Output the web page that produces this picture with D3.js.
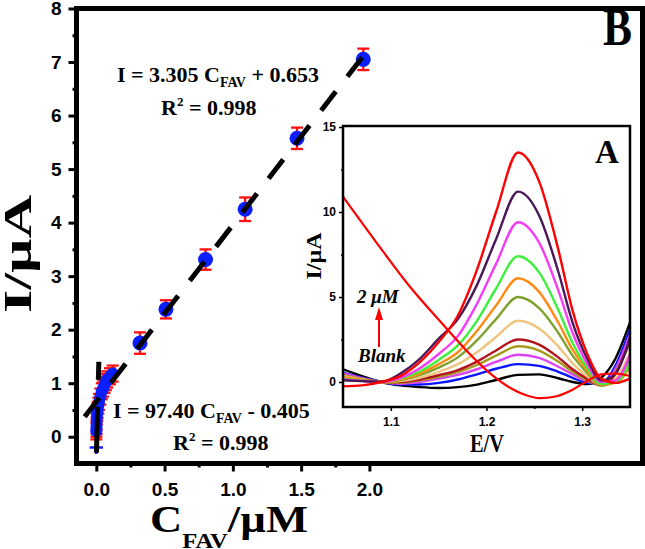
<!DOCTYPE html>
<html>
<head>
<meta charset="utf-8">
<script src="https://cdn.jsdelivr.net/npm/d3@7"></script>
<style>
body { margin: 0; background: #fff; }
svg { display: block; }
</style>
</head>
<body>
<svg id="chart" width="645" height="549"></svg>
<script>
// ---- panel B: calibration data ----
var highC = [0.32, 0.51, 0.80, 1.09, 1.47, 1.955];
var highI = [1.75, 2.38, 3.31, 4.25, 5.575, 7.05];
var highErr = [0.2, 0.17, 0.19, 0.22, 0.2, 0.2];

var lowC = [0.0005, 0.001, 0.002, 0.003, 0.005, 0.008, 0.01, 0.015, 0.02, 0.03, 0.04, 0.05, 0.06, 0.07, 0.08, 0.1, 0.12];
var lowI = [0.1, 0.15, 0.2, 0.28, 0.38, 0.45, 0.5, 0.58, 0.65, 0.75, 0.85, 0.9, 0.97, 1.02, 1.07, 1.13, 1.18];
var lowErr = [0.15, 0.15, 0.15, 0.15, 0.15, 0.15, 0.15, 0.15, 0.15, 0.15, 0.15, 0.15, 0.15, 0.15, 0.15, 0.15, 0.15];

var blankC = [0.0];
var blankI = [-0.2];

// linear fits: [slope, intercept], drawn over a C range / I range
var fitHigh = [3.305, 0.653];
var fitHighRange = [-0.085, 1.95];
var fitLow = [97.40, -0.405];
var fitLowIRange = [1.4, -0.3];

var xTicks = [0, 0.5, 1.0, 1.5, 2.0];
var xMinor = [0.25, 0.75, 1.25, 1.75];
var yTicks = [0, 1, 2, 3, 4, 5, 6, 7, 8];
var yMinor = [0.5, 1.5, 2.5, 3.5, 4.5, 5.5, 6.5, 7.5];

// ---- panel A: DPV curves ----
var potentials = [1.05, 1.07, 1.09, 1.11, 1.13, 1.15, 1.17, 1.19, 1.21, 1.233, 1.255, 1.275, 1.29, 1.305, 1.32, 1.335, 1.35];
var curveNames = ["blank", "c1", "c2", "c3", "c4", "c5", "c6", "c7", "c8", "c9", "c10", "2uM"];
var curveColors = ["#000000", "#0a14ff", "#dd44f0", "#a39a1e", "#b3141c", "#efc47c",
                   "#7fa12c", "#ff8a14", "#3cf03c", "#f43cf4", "#4a1758", "#ff0000"];
var curveValues = [
    [0.75, 0.35, 0.0, -0.2, -0.3, -0.35, -0.3, -0.15, 0.12, 0.42, 0.45, 0.22, 0.0, -0.12, 0.25, 1.4, 3.5],
    [0.55, 0.25, 0.0, -0.15, -0.15, -0.05, 0.15, 0.45, 0.78, 1.05, 0.95, 0.6, 0.25, -0.05, -0.1, 1.0, 3.1],
    [0.5, 0.22, 0.0, -0.1, 0.0, 0.2, 0.42, 0.75, 1.18, 1.6, 1.42, 0.9, 0.45, 0.05, -0.15, 0.8, 2.8],
    [0.4, 0.18, 0.0, -0.05, 0.1, 0.3, 0.58, 1.0, 1.55, 2.1, 1.85, 1.2, 0.6, 0.1, -0.2, 0.6, 2.3],
    [0.3, 0.14, 0.0, 0.0, 0.15, 0.4, 0.7, 1.2, 1.85, 2.5, 2.2, 1.45, 0.75, 0.2, -0.2, 0.5, 2.5],
    [0.35, 0.15, 0.0, 0.05, 0.25, 0.6, 1.05, 1.75, 2.65, 3.6, 3.15, 2.1, 1.1, 0.35, -0.2, 0.2, 1.7],
    [0.25, 0.1, 0.0, 0.12, 0.4, 0.85, 1.45, 2.45, 3.7, 5.0, 4.35, 2.9, 1.55, 0.55, -0.2, 0.05, 1.3],
    [0.3, 0.12, 0.0, 0.15, 0.5, 1.05, 1.75, 3.0, 4.5, 6.1, 5.3, 3.5, 1.9, 0.7, -0.15, -0.05, 0.9],
    [0.2, 0.08, 0.0, 0.2, 0.62, 1.3, 2.15, 3.6, 5.5, 7.4, 6.45, 4.25, 2.3, 0.85, -0.1, 0.0, 1.1],
    [0.15, 0.06, 0.0, 0.25, 0.8, 1.65, 2.7, 4.6, 6.95, 9.4, 8.2, 5.4, 2.9, 1.1, 0.0, 0.1, 1.6],
    [0.1, 0.05, 0.02, 0.5, 1.35, 2.55, 3.7, 5.7, 8.4, 11.2, 9.8, 6.5, 3.5, 1.4, 0.1, 0.5, 2.6],
    [-0.25, -0.2, 0.0, 0.35, 1.15, 2.35, 3.9, 6.6, 10.0, 13.5, 11.8, 7.8, 4.2, 1.7, 0.2, -0.05, 0.2]
];
// sloping red trace
var slopeE = [1.05, 1.085, 1.12, 1.155, 1.185, 1.205, 1.225, 1.24, 1.256, 1.272, 1.29, 1.305, 1.32, 1.335, 1.35];
var slopeI = [10.9, 8.2, 5.6, 3.35, 1.5, 0.45, -0.35, -0.75, -0.95, -0.85, -0.45, 0.05, 0.45, 0.5, 0.35];

var insetXTicks = [1.1, 1.2, 1.3];
var insetXMinor = [1.15, 1.25];
var insetYTicks = [0, 5, 10, 15];
var insetYMinor = [2.5, 7.5, 12.5];

var SERIF = "'Liberation Serif', 'Times New Roman', serif";
var SANS = "'Liberation Sans', Arial, sans-serif";

var svg = d3.select("#chart");

// ---- main frame and scales ----
var frame = {left: 76.5, right: 642.5, top: 8.5, bottom: 463.5};
var x = d3.scaleLinear().domain([-0.145, 4.0]).range([frame.left, frame.right]);
var y = d3.scaleLinear().domain([-0.5, 8]).range([frame.bottom, frame.top]);

var main = svg.append("g").attr("class", "main");

function styleAxis(g, size) {
    g.select(".domain").remove();
    g.selectAll(".tick line").attr("stroke", "#000").attr("stroke-width", 3);
    g.selectAll(".tick text")
        .attr("fill", "#000")
        .style("font-family", SANS)
        .style("font-weight", "bold")
        .style("font-size", size + "px");
}

main.append("g")
    .attr("transform", "translate(" + frame.left + ",0)")
    .call(d3.axisLeft(y).tickValues(yTicks).tickSize(8).tickPadding(7).tickFormat(d3.format("d")))
    .call(styleAxis, 19);
main.append("g")
    .attr("transform", "translate(" + frame.left + ",0)")
    .call(d3.axisLeft(y).tickValues(yMinor).tickSize(4).tickFormat(""))
    .call(styleAxis, 19);
main.append("g")
    .attr("transform", "translate(0," + frame.bottom + ")")
    .call(d3.axisBottom(x).tickValues(xTicks).tickSize(8).tickPadding(11).tickFormat(d3.format(".1f")))
    .call(styleAxis, 19);
main.append("g")
    .attr("transform", "translate(0," + frame.bottom + ")")
    .call(d3.axisBottom(x).tickValues(xMinor).tickSize(4).tickFormat(""))
    .call(styleAxis, 19);

main.append("rect")
    .attr("x", frame.left).attr("y", frame.top)
    .attr("width", frame.right - frame.left).attr("height", frame.bottom - frame.top)
    .attr("fill", "none").attr("stroke", "#000").attr("stroke-width", 5);

// axis titles
var xt = main.append("text")
    .attr("x", 150).attr("y", 532)
    .attr("textLength", 158).attr("lengthAdjust", "spacingAndGlyphs")
    .style("font-family", SERIF).style("font-weight", "bold").style("font-size", "38px");
xt.append("tspan").text("C");
xt.append("tspan").attr("dy", 16).style("font-size", "21px").text("FAV");
xt.append("tspan").attr("dy", -16).text("/µM");

main.append("text")
    .attr("transform", "translate(31,254) rotate(-90)")
    .attr("text-anchor", "middle")
    .attr("textLength", 118).attr("lengthAdjust", "spacingAndGlyphs")
    .style("font-family", SERIF).style("font-weight", "bold").style("font-size", "40px")
    .text("I/µA");

// ---- data marks ----
var high = highC.map(function (c, i) { return {c: c, v: highI[i], e: highErr[i], r: 7.5}; });
var low = lowC.map(function (c, i) { return {c: c, v: lowI[i], e: lowErr[i], r: 6}; });
var pts = low.concat(high);

var bars = main.append("g").attr("class", "errorbars")
    .attr("stroke", "#ff1010").attr("stroke-width", 2.3).attr("fill", "none");
pts.forEach(function (d) {
    var cx = x(d.c);
    bars.append("line").attr("x1", cx).attr("x2", cx).attr("y1", y(d.v - d.e)).attr("y2", y(d.v + d.e));
    bars.append("line").attr("x1", cx - 6).attr("x2", cx + 6).attr("y1", y(d.v - d.e)).attr("y2", y(d.v - d.e));
    bars.append("line").attr("x1", cx - 6).attr("x2", cx + 6).attr("y1", y(d.v + d.e)).attr("y2", y(d.v + d.e));
});

main.append("g").selectAll("circle")
    .data(pts)
    .enter().append("circle")
    .attr("cx", function (d) { return x(d.c); })
    .attr("cy", function (d) { return y(d.v); })
    .attr("r", function (d) { return d.r; })
    .attr("fill", "#0a1eff");

main.append("g").selectAll("path")
    .data(blankC)
    .enter().append("path")
    .attr("transform", function (d, i) { return "translate(" + x(d) + "," + y(blankI[i]) + ")"; })
    .attr("d", d3.symbol(d3.symbolPlus, 60))
    .attr("fill", "none").attr("stroke", "#1020ff").attr("stroke-width", 2.5);

// fit lines
var line = d3.line().x(function (d) { return x(d[0]); }).y(function (d) { return y(d[1]); });
var highLine = fitHighRange.map(function (c) { return [c, fitHigh[0] * c + fitHigh[1]]; });
main.append("path")
    .attr("d", line(highLine))
    .attr("fill", "none").attr("stroke", "#000").attr("stroke-width", 5)
    .attr("stroke-dasharray", "24,19");
var lowLine = fitLowIRange.map(function (v) { return [(v - fitLow[1]) / fitLow[0], v]; });
main.append("path")
    .attr("d", line(lowLine))
    .attr("fill", "none").attr("stroke", "#000").attr("stroke-width", 5)
    .attr("stroke-dasharray", "18,27,50,10");

// equations
function equation(x0, y0, a, b) {
    var t = main.append("text").attr("x", x0).attr("y", y0)
        .style("font-family", SERIF).style("font-weight", "bold").style("font-size", "22px");
    t.append("tspan").text(a);
    t.append("tspan").attr("dy", 5).style("font-size", "14px").text("FAV");
    t.append("tspan").attr("dy", -5).text(b);
}
function rsq(x0, y0, val) {
    var t = main.append("text").attr("x", x0).attr("y", y0)
        .style("font-family", SERIF).style("font-weight", "bold").style("font-size", "22px");
    t.append("tspan").text("R");
    t.append("tspan").attr("dy", -9).style("font-size", "13px").text("2");
    t.append("tspan").attr("dy", 9).text(" = " + val);
}
equation(117, 82, "I = 3.305 C", " + 0.653");
rsq(161, 115, "0.998");
equation(113, 418, "I = 97.40 C", " - 0.405");
rsq(173, 450, "0.998");

main.append("text")
    .attr("x", 603).attr("y", 45)
    .attr("textLength", 29).attr("lengthAdjust", "spacingAndGlyphs")
    .style("font-family", SERIF).style("font-weight", "bold").style("font-size", "52px")
    .text("B");

// ---- inset A ----
var ib = {left: 343, right: 630, top: 126, bottom: 407};
var ex = d3.scaleLinear().domain([1.05, 1.35]).range([ib.left, ib.right]);
var iy = d3.scaleLinear().domain([-1.47, 15.06]).range([ib.bottom, ib.top]);

var inset = svg.append("g").attr("class", "inset");
inset.append("rect")
    .attr("x", ib.left).attr("y", ib.top)
    .attr("width", ib.right - ib.left).attr("height", ib.bottom - ib.top)
    .attr("fill", "#fff");

svg.append("clipPath").attr("id", "insetClip")
    .append("rect")
    .attr("x", ib.left).attr("y", ib.top)
    .attr("width", ib.right - ib.left).attr("height", ib.bottom - ib.top);

var curve = d3.line()
    .x(function (d) { return ex(d[0]); })
    .y(function (d) { return iy(d[1]); })
    .curve(d3.curveMonotoneX);

var traces = inset.append("g").attr("clip-path", "url(#insetClip)");
curveValues.forEach(function (vals, k) {
    traces.append("path")
        .attr("class", "trace " + curveNames[k])
        .attr("d", curve(potentials.map(function (e, i) { return [e, vals[i]]; })))
        .attr("fill", "none").attr("stroke", curveColors[k]).attr("stroke-width", 2.4);
});
traces.append("path")
    .attr("d", curve(slopeE.map(function (e, i) { return [e, slopeI[i]]; })))
    .attr("fill", "none").attr("stroke", "#ff0000").attr("stroke-width", 2.2);

function styleInsetAxis(g) {
    g.select(".domain").remove();
    g.selectAll(".tick line").attr("stroke", "#000").attr("stroke-width", 1.5);
    g.selectAll(".tick text")
        .attr("fill", "#000")
        .style("font-family", SANS)
        .style("font-weight", "bold")
        .style("font-size", "12px");
}
inset.append("g")
    .attr("transform", "translate(" + ib.left + ",0)")
    .call(d3.axisLeft(iy).tickValues(insetYTicks).tickSize(4).tickPadding(3).tickFormat(d3.format("d")))
    .call(styleInsetAxis);
inset.append("g")
    .attr("transform", "translate(" + ib.left + ",0)")
    .call(d3.axisLeft(iy).tickValues(insetYMinor).tickSize(2).tickFormat(""))
    .call(styleInsetAxis);
inset.append("g")
    .attr("transform", "translate(0," + ib.bottom + ")")
    .call(d3.axisBottom(ex).tickValues(insetXTicks).tickSize(4).tickPadding(6).tickFormat(d3.format(".1f")))
    .call(styleInsetAxis);
inset.append("g")
    .attr("transform", "translate(0," + ib.bottom + ")")
    .call(d3.axisBottom(ex).tickValues(insetXMinor).tickSize(2).tickFormat(""))
    .call(styleInsetAxis);

inset.append("rect")
    .attr("x", ib.left).attr("y", ib.top)
    .attr("width", ib.right - ib.left).attr("height", ib.bottom - ib.top)
    .attr("fill", "none").attr("stroke", "#000").attr("stroke-width", 2.5);

inset.append("text")
    .attr("x", 487).attr("y", 452).attr("text-anchor", "middle")
    .attr("textLength", 34).attr("lengthAdjust", "spacingAndGlyphs")
    .style("font-family", SERIF).style("font-weight", "bold").style("font-size", "25px")
    .text("E/V");
inset.append("text")
    .attr("transform", "translate(321,256) rotate(-90)")
    .attr("text-anchor", "middle")
    .attr("textLength", 47).attr("lengthAdjust", "spacingAndGlyphs")
    .style("font-family", SERIF).style("font-weight", "bold").style("font-size", "21px")
    .text("I/µA");
inset.append("text")
    .attr("x", 595).attr("y", 163)
    .style("font-family", SERIF).style("font-weight", "bold").style("font-size", "33px")
    .text("A");

inset.append("text")
    .attr("x", 357).attr("y", 303)
    .style("font-family", SERIF).style("font-weight", "bold").style("font-style", "italic").style("font-size", "19px")
    .text("2 μM");
inset.append("text")
    .attr("x", 358).attr("y", 362)
    .style("font-family", SERIF).style("font-weight", "bold").style("font-style", "italic").style("font-size", "19px")
    .text("Blank");
inset.append("line")
    .attr("x1", 379).attr("x2", 379).attr("y1", 347).attr("y2", 318)
    .attr("stroke", "#ff0000").attr("stroke-width", 2);
inset.append("path")
    .attr("d", d3.path ? (function () {
        var p = d3.path();
        p.moveTo(379, 307); p.lineTo(383, 320); p.lineTo(375, 320); p.closePath();
        return p.toString();
    })() : "")
    .attr("fill", "#ff0000");
</script>
</body>
</html>
